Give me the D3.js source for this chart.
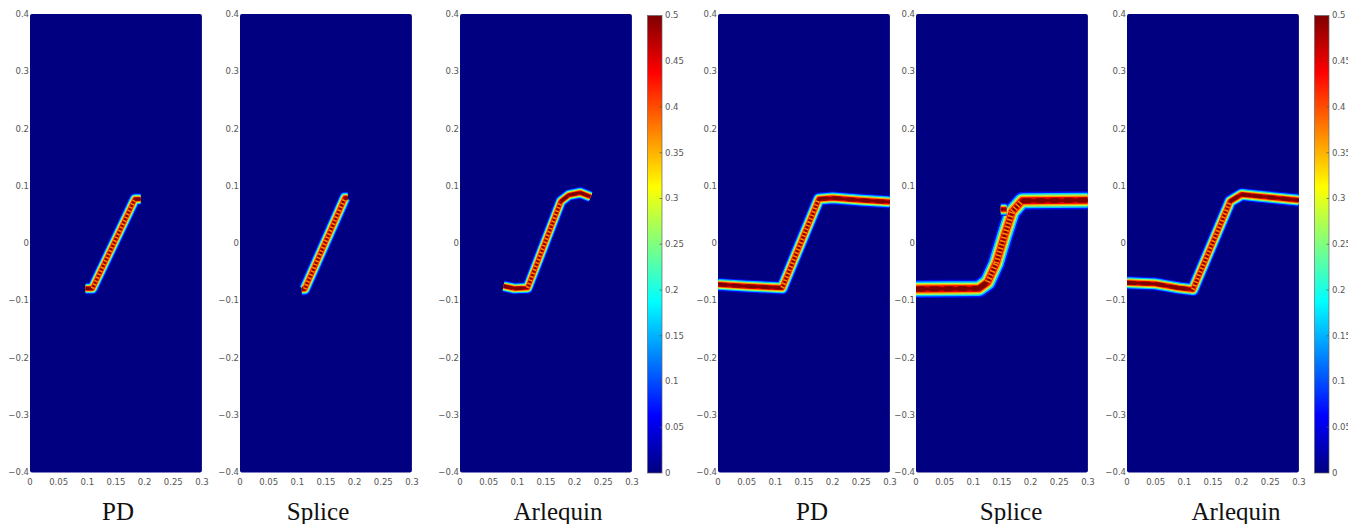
<!DOCTYPE html>
<html>
<head>
<meta charset="utf-8">
<script src="https://cdn.jsdelivr.net/npm/d3@7"></script>
<style>
  body { margin: 0; background: #fff; }
  svg { display: block; }
</style>
</head>
<body>
<div id="chart"></div>
<script>
// panel titles, in order left to right
const panelNames = ["PD", "Splice", "Arlequin", "PD", "Splice", "Arlequin"];

const xTicks = [0, 0.05, 0.1, 0.15, 0.2, 0.25, 0.3];
const yTicks = [-0.4, -0.3, -0.2, -0.1, 0, 0.1, 0.2, 0.3, 0.4];
const cbarTicks = [0, 0.05, 0.1, 0.15, 0.2, 0.25, 0.3, 0.35, 0.4, 0.45, 0.5];

// damage levels across the crack band, outside -> centre
const bandLevels = [0.07, 0.16, 0.27, 0.36, 0.44, 0.5];

// crack paths, [x, y] in model coordinates
const crackPD = [[0.097, -0.079], [0.109, -0.079], [0.183, 0.077], [0.193, 0.077]];
const crackSplice = [[0.108, -0.080], [0.113, -0.080], [0.183, 0.079], [0.188, 0.079]];
const crackArlequin = [[0.076, -0.075], [0.095, -0.079], [0.118, -0.078], [0.176, 0.073],
                       [0.19, 0.084], [0.21, 0.088], [0.228, 0.081]];
const crackPDLong = [[0, -0.072], [0.05, -0.075], [0.112, -0.078], [0.176, 0.077],
                     [0.2, 0.079], [0.25, 0.075], [0.3, 0.072]];
const crackSpliceLong = [[0, -0.080], [0.11, -0.079], [0.125, -0.068], [0.14, -0.035],
                         [0.155, 0.015], [0.168, 0.055], [0.185, 0.074], [0.3, 0.075]];
const crackSpliceBlob = [[0.148, 0.059], [0.158, 0.059]];
const crackArlequinLong = [[0, -0.069], [0.05, -0.071], [0.09, -0.078], [0.115, -0.081],
                           [0.18, 0.073], [0.2, 0.085], [0.22, 0.083], [0.3, 0.075]];

const panelCracks = [
  [crackPD],
  [crackSplice],
  [crackArlequin],
  [crackPDLong],
  [crackSpliceLong, crackSpliceBlob],
  [crackArlequinLong]
];

// layout
const W = 1348, H = 524;
const pxPerUnit = 573;
const panelLeft = [30, 240, 460, 718, 916, 1127];
const panelTop = 14;
const bandWidth = [8, 8.5, 8, 9, 12.5, 9];
const labelX = [118, 318, 558, 812, 1011, 1236];
const cbarLeft = [647.5, 1314.5];

const svg = d3.select("#chart").append("svg")
  .attr("width", W).attr("height", H);

// jet colormap on 0..0.5
const jet = d3.scaleLinear()
  .domain([0, 1/8, 3/8, 5/8, 7/8, 1].map(t => t * 0.5))
  .range(["#000080", "#0000ff", "#00ffff", "#ffff00", "#ff0000", "#800000"])
  .clamp(true);

const fmt = d => d3.format("~g")(d);

panelNames.forEach((name, i) => {
  const x = d3.scaleLinear().domain([0, 0.3]).range([panelLeft[i], panelLeft[i] + 0.3 * pxPerUnit]);
  const y = d3.scaleLinear().domain([-0.4, 0.4]).range([panelTop + 0.8 * pxPerUnit, panelTop]);

  const g = svg.append("g");

  const clipId = "clip" + i;
  svg.append("clipPath").attr("id", clipId)
    .append("rect")
    .attr("x", x(0)).attr("y", y(0.4))
    .attr("width", x(0.3) - x(0)).attr("height", y(-0.4) - y(0.4))
    .attr("rx", 2);

  g.append("rect")
    .attr("x", x(0)).attr("y", y(0.4))
    .attr("width", x(0.3) - x(0)).attr("height", y(-0.4) - y(0.4))
    .attr("rx", 2)
    .attr("fill", jet(0));

  const line = d3.line().x(d => x(d[0])).y(d => y(d[1])).curve(d3.curveLinear);
  const cg = g.append("g").attr("clip-path", `url(#${clipId})`);
  const bw = bandWidth[i];
  const widths = [1.45, 1.2, 0.95, 0.75, 0.55, 0.28];

  panelCracks[i].forEach((pts, k) => {
    const scaleW = k === 0 ? 1 : 0.7;
    bandLevels.forEach((v, j) => {
      cg.append("path")
        .attr("d", line(pts))
        .attr("fill", "none")
        .attr("stroke", jet(v))
        .attr("stroke-width", bw * widths[j] * scaleW)
        .attr("stroke-linejoin", "round")
        .attr("stroke-linecap", "butt");
    });
    if (k > 0) return;
    // rope-like look on the steep parts, dark patches on the flat parts
    d3.pairs(pts).forEach(([a, b]) => {
      const steep = Math.abs(b[1] - a[1]) > Math.abs(b[0] - a[0]);
      cg.append("path")
        .attr("d", line([a, b]))
        .attr("fill", "none")
        .attr("stroke", steep ? jet(0.37) : jet(0.5))
        .attr("stroke-width", bw * (steep ? 0.45 : 0.42))
        .attr("stroke-dasharray", steep ? "1.5,2.2" : "9,5");
    });
  });

  // y axis labels
  g.selectAll(".ylab").data(yTicks).join("text")
    .attr("x", x(0) - 1)
    .attr("y", d => y(d))
    .attr("dy", "0.35em")
    .attr("text-anchor", "end")
    .attr("font-family", "DejaVu Sans")
    .attr("font-size", 8.5)
    .attr("fill", "#555")
    .text(fmt);

  // x axis labels
  g.selectAll(".xlab").data(xTicks).join("text")
    .attr("x", d => x(d))
    .attr("y", y(-0.4) + 13)
    .attr("text-anchor", "middle")
    .attr("font-family", "DejaVu Sans")
    .attr("font-size", 8.5)
    .attr("fill", "#555")
    .text(fmt);

  g.append("text")
    .attr("x", labelX[i])
    .attr("y", 520)
    .attr("text-anchor", "middle")
    .attr("font-family", "Liberation Serif")
    .attr("font-size", 25)
    .attr("fill", "#111")
    .text(name);
});

// colorbars
const defs = svg.append("defs");
const grad = defs.append("linearGradient").attr("id", "jetgrad")
  .attr("x1", 0).attr("y1", 1).attr("x2", 0).attr("y2", 0);
jet.domain().forEach(v => {
  grad.append("stop").attr("offset", v / 0.5).attr("stop-color", jet(v));
});

cbarLeft.forEach(cx => {
  const cy = d3.scaleLinear().domain([0, 0.5]).range([473, 15.5]);
  const cw = 14.5;
  const g = svg.append("g");
  g.append("rect")
    .attr("x", cx).attr("y", cy(0.5))
    .attr("width", cw).attr("height", cy(0) - cy(0.5))
    .attr("fill", "url(#jetgrad)")
    .attr("stroke", "#666").attr("stroke-width", 0.7);
  g.selectAll("line").data(cbarTicks.slice(1, -1)).join("line")
    .attr("x1", cx + cw - 2.5).attr("x2", cx + cw)
    .attr("y1", d => cy(d)).attr("y2", d => cy(d))
    .attr("stroke", "#555").attr("stroke-width", 0.7);
  g.selectAll("text").data(cbarTicks).join("text")
    .attr("x", cx + cw + 3)
    .attr("y", d => cy(d))
    .attr("dy", "0.35em")
    .attr("font-family", "DejaVu Sans")
    .attr("font-size", 8.5)
    .attr("fill", "#555")
    .text(fmt);
});
</script>
</body>
</html>
